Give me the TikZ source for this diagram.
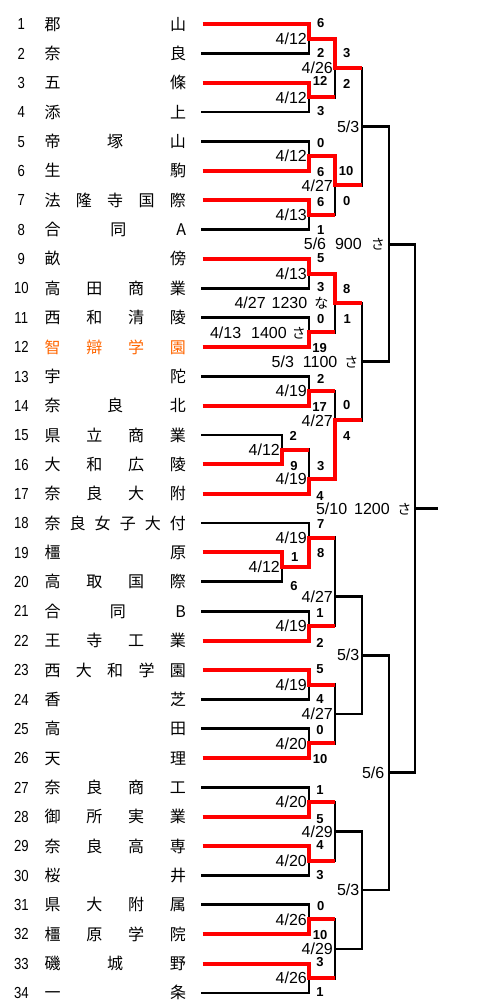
\documentclass[tikz,border=0pt]{standalone}
\usepackage{fontspec}
\setmainfont{Liberation Sans}
\newfontfamily\cjk{Noto Sans CJK JP}
\newfontfamily\numf[FakeStretch=0.82]{Liberation Sans}
\definecolor{org}{RGB}{255,102,0}
\definecolor{rd}{RGB}{255,0,0}
\newcommand\kana[1]{{\cjk\fontsize{14}{14}\selectfont #1}}
\tikzset{
 rl/.style={draw=rd, line width=4pt},
 kl/.style={draw=black, line width=2.7pt, line cap=rect},
 date/.style={font=\fontsize{16}{16}\selectfont, inner sep=0pt, anchor=east, text height=11.5pt, text depth=0pt},
 score/.style={font=\bfseries\fontsize{13}{13}\selectfont, inner sep=0pt, text height=9.4pt, text depth=0pt},
 num/.style={font=\numf\fontsize{16}{16}\selectfont, inner sep=0pt, text height=11.5pt, text depth=0pt},
 tname/.style={font=\cjk\fontsize{16}{16}\selectfont, inner sep=0pt, anchor=west, text height=12.2pt, text depth=0pt},
}
\begin{document}
\begin{tikzpicture}[x=1pt,y=-1pt]
\fill[white] (0,0) rectangle (480,1008);
\useasboundingbox (0,0) rectangle (480,1008);
% leaf start points
\foreach \i in {1,...,34}{\coordinate (p\i) at (202.5,{24+(\i-1)*29.36});}
% match points
\coordinate (mA) at (309,38.68);
\coordinate (mB) at (309,97.4);
\coordinate (mC) at (335,68.04);
\coordinate (mD) at (309,156.12);
\coordinate (mE) at (309,214.84);
\coordinate (mF) at (335,185.48);
\coordinate (mG) at (362,126.76);
\coordinate (mH) at (309,273.56);
\coordinate (mI) at (309,332.28);
\coordinate (mJ) at (335,302.92);
\coordinate (mL) at (309,391);
\coordinate (mK) at (282,449.72);
\coordinate (mM) at (309,479.08);
\coordinate (mN) at (335,420.36);
\coordinate (mO) at (362,361.64);
\coordinate (mAF) at (389,244.2);
\coordinate (mP) at (282,567.16);
\coordinate (mQ) at (309,537.8);
\coordinate (mR) at (309,625.88);
\coordinate (mS) at (335,596.52);
\coordinate (mT) at (309,684.6);
\coordinate (mU) at (309,743.32);
\coordinate (mV) at (335,713.96);
\coordinate (mW) at (362,655.24);
\coordinate (mX) at (309,802.04);
\coordinate (mY) at (309,860.76);
\coordinate (mZ) at (335,831.4);
\coordinate (mAA) at (309,919.48);
\coordinate (mAB) at (309,978.2);
\coordinate (mAC) at (335,948.84);
\coordinate (mAD) at (362,890.12);
\coordinate (mAE) at (389,772.68);
\coordinate (mAG) at (415,508.44);
\coordinate (fin) at (437,508.44);
% black lines
\foreach \a/\b in {p2/mA,p4/mB,p5/mD,p8/mE,p10/mH,p11/mI,p13/mL,p15/mK,p18/mQ,p20/mP,p21/mR,p24/mT,p25/mU,p27/mX,p30/mY,p31/mAA,p34/mAB}
  {\draw[kl] (\a) -| (\b);}
\foreach \a/\b in {mB/mC,mE/mF,mC/mG,mF/mG,mI/mJ,mL/mN,mK/mM,mJ/mO,mN/mO,mQ/mS,mR/mS,mT/mV,mU/mV,mX/mZ,mY/mZ,mAA/mAC,mAB/mAC}
  {\draw[kl] (\a -| \b) -- (\b);}
\foreach \a/\b in {mG/mAF,mO/mAF,mS/mW,mV/mW,mZ/mAD,mAC/mAD,mW/mAE,mAD/mAE,mAF/mAG,mAE/mAG}
  {\draw[kl] (\a) -| (\b);}
\draw[kl] (mAG) -- (fin);
% red winner paths
\draw[rl] (p1) -| (mA) -| (mC) -- (mC -| mG);
\draw[rl] (p3) -| (mB) -- (mB -| mC);
\draw[rl] (p6) -| (mD) -| (mF) -- (mF -| mG);
\draw[rl] (p7) -| (mE) -- (mE -| mF);
\draw[rl] (p9) -| (mH) -| (mJ) -- (mJ -| mO);
\draw[rl] (p12) -| (mI) -- (mI -| mJ);
\draw[rl] (p14) -| (mL) -- (mL -| mN);
\draw[rl] (p16) -| (mK) -- (mK -| mM);
\draw[rl] (p17) -| (mM) -| (mN) -- (mN -| mO);
\draw[rl] (p19) -| (mP) -| (mQ) -- (mQ -| mS);
\draw[rl] (p22) -| (mR) -- (mR -| mS);
\draw[rl] (p23) -| (mT) -- (mT -| mV);
\draw[rl] (p26) -| (mU) -- (mU -| mV);
\draw[rl] (p28) -| (mX) -- (mX -| mZ);
\draw[rl] (p29) -| (mY) -- (mY -| mZ);
\draw[rl] (p32) -| (mAA) -- (mAA -| mAC);
\draw[rl] (p33) -| (mAB) -- (mAB -| mAC);
% team numbers and names
\foreach \i/\nm in {1/郡\hfill 山,2/奈\hfill 良,3/五\hfill 條,4/添\hfill 上,5/帝\hfill 塚\hfill 山,6/生\hfill 駒,7/法\hfill 隆\hfill 寺\hfill 国\hfill 際,8/合\hfill 同\hfill A,9/畝\hfill 傍,10/高\hfill 田\hfill 商\hfill 業,11/西\hfill 和\hfill 清\hfill 陵,12/{\color{org}智\hfill 辯\hfill 学\hfill 園},13/宇\hfill 陀,14/奈\hfill 良\hfill 北,15/県\hfill 立\hfill 商\hfill 業,16/大\hfill 和\hfill 広\hfill 陵,17/奈\hfill 良\hfill 大\hfill 附,18/奈\hfill 良\hfill 女\hfill 子\hfill 大\hfill 付,19/橿\hfill 原,20/高\hfill 取\hfill 国\hfill 際,21/合\hfill 同\hfill B,22/王\hfill 寺\hfill 工\hfill 業,23/西\hfill 大\hfill 和\hfill 学\hfill 園,24/香\hfill 芝,25/高\hfill 田,26/天\hfill 理,27/奈\hfill 良\hfill 商\hfill 工,28/御\hfill 所\hfill 実\hfill 業,29/奈\hfill 良\hfill 高\hfill 専,30/桜\hfill 井,31/県\hfill 大\hfill 附\hfill 属,32/橿\hfill 原\hfill 学\hfill 院,33/磯\hfill 城\hfill 野,34/一\hfill 条}
{
  \node[num] (n\i) at (21.3,{24+(\i-1)*29.36}) {\i};
  \node[tname] (t\i) at (44.3,{24+(\i-1)*29.36}) {\hbox to 141.5pt{\nm}};
}
% dates
\foreach \nm/\x/\y/\t in {dA/307/38.68/4\slash 12,dB/307/97.4/4\slash 12,dC/333/68.04/4\slash 26,dD/307/156.12/4\slash 12,dE/307/214.84/4\slash 13,dF/333/185.48/4\slash 27,dG/359.5/126.76/5\slash 3,dH/307/273.56/4\slash 13,dK/280/449.72/4\slash 12,dL/307/391/4\slash 19,dM/307/479.08/4\slash 19,dN/333/420.36/4\slash 27,dP/280/567.16/4\slash 12,dQ/307/537.8/4\slash 19,dR/307/625.88/4\slash 19,dS/333/596.52/4\slash 27,dT/307/684.6/4\slash 19,dU/307/743.32/4\slash 20,dV/333/713.96/4\slash 27,dW/359.5/655.24/5\slash 3,dX/307/802.04/4\slash 20,dY/307/860.76/4\slash 20,dZ/333/831.4/4\slash 29,dAA/307/919.48/4\slash 26,dAB/307/978.2/4\slash 26,dAC/333/948.84/4\slash 29,dAD/359.5/890.12/5\slash 3,dAE/384.5/772.68/5\slash 6}
  {\node[date] (\nm) at (\x,\y) {\t};}
\node[date] (dI) at (306,332.28) {4/13\hspace{10pt}1400\hspace{5pt}\kana{さ}};
\node[date] (dJ) at (328.5,302.92) {4/27\hspace{6pt}1230\hspace{7pt}\kana{な}};
\node[date] (dO) at (358.5,361.64) {5/3\hspace{9pt}1100\hspace{7pt}\kana{さ}};
\node[date] (dAF) at (385,244.2) {5/6\hspace{9pt}900\hspace{9pt}\kana{さ}};
\node[date] (dAG) at (411.5,508.44) {5/10\hspace{7pt}1200\hspace{7.5pt}\kana{さ}};
% scores
\foreach \nm/\x/\y/\t in {sA1/320.7/23.3/6,sA2/320.7/52.5/2,sB1/320/81/12,sB2/320.7/111/3,sC1/346.7/53.3/3,sC2/346.7/84.3/2,sD1/320.7/143.3/0,sD2/320.7/172.3/6,sE1/320.7/201.7/6,sE2/320.7/230/1,sF1/346/170.7/10,sF2/346.7/200.7/0,sH1/320.7/257.3/5,sH2/320.7/286.7/3,sJ1/346.7/288.3/8,sJ2/347.3/319/1,sI1/320.7/318.3/0,sI2/319.5/347.6/19,sL1/320.7/378.3/2,sL2/319.5/406.7/17,sN1/346.7/405/0,sN2/346.7/435.7/4,sK1/293.3/436/2,sK2/294/466/9,sM1/320.7/466/3,sM2/320/495.3/4,sQ1/320.7/524/7,sQ2/320.7/553/8,sP1/294.7/556.7/1,sP2/294/586/6,sR1/320/612.7/1,sR2/320/642.7/2,sT1/320/669/5,sT2/320/699/4,sU1/320/730/0,sU2/320/759/10,sX1/320/789.3/1,sX2/320/819/5,sY1/320/845/4,sY2/320/875/3,sAA1/320.7/906/0,sAA2/320/935/10,sAB1/320/961.7/3,sAB2/320/991.7/1}
  {\node[score] (\nm) at (\x,\y) {\t};}
\end{tikzpicture}
\end{document}
